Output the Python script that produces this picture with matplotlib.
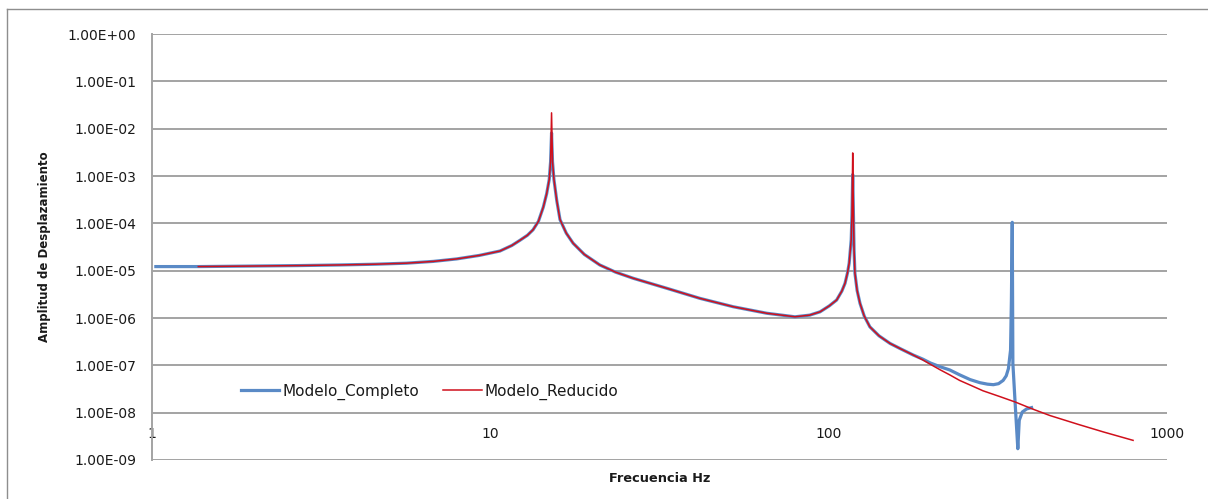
import matplotlib
matplotlib.use("Agg")
import matplotlib.pyplot as plt
from matplotlib.lines import Line2D

# ---- data ----
freq_completo = [1.03, 1.375, 1.95, 2.7, 3.6, 4.6, 5.67, 6.8, 7.97, 9.3, 10.7, 11.6, 12.27, 12.9,
                 13.4, 13.9, 14.37, 14.7, 14.96, 15.1, 15.2, 15.3, 15.45, 15.75, 16.1, 16.8, 17.6,
                 19.0, 21.1, 23.5, 26.5, 33.3, 41.7, 52.3, 65.7, 79.6, 88.0, 94.4, 100.5, 105.7,
                 109.5, 111.9, 113.8, 115.1, 116.7, 117.3, 117.9, 118.5, 119.0, 119.7, 121.5, 123.9,
                 127.5, 132.5, 141.0, 152.0, 164.0, 178.0, 190.0, 200.0, 214.0, 228.0, 244.0, 262.0,
                 280.0, 295.0, 307.0, 318.0, 328.0, 335.0, 340.0, 345.0, 347.0, 349.0, 350.5, 356.0,
                 362.5, 366.0, 373.6, 385.0, 398.0]
amp_completo = [1.22e-5, 1.22e-5, 1.25e-5, 1.28e-5, 1.32e-5, 1.37e-5, 1.44e-5, 1.57e-5, 1.77e-5,
                2.1e-5, 2.6e-5, 3.4e-5, 4.4e-5, 5.6e-5, 7.3e-5, 1.1e-4, 2.2e-4, 4.2e-4, 8.4e-4,
                2.0e-3, 8.1e-3, 2.0e-3, 8.4e-4, 3.0e-4, 1.2e-4, 6.2e-5, 3.8e-5, 2.2e-5, 1.32e-5,
                9.3e-6, 6.9e-6, 4.24e-6, 2.6e-6, 1.73e-6, 1.26e-6, 1.06e-6, 1.15e-6, 1.35e-6,
                1.8e-6, 2.4e-6, 3.7e-6, 5.4e-6, 9.0e-6, 1.44e-5, 4.5e-5, 1.5e-4, 1.07e-3, 1.5e-4,
                2.7e-5, 8.8e-6, 3.8e-6, 2.04e-6, 1.1e-6, 6.5e-7, 4.2e-7, 2.9e-7, 2.2e-7, 1.65e-7,
                1.35e-7, 1.12e-7, 9.3e-8, 8.0e-8, 6.3e-8, 5.0e-8, 4.3e-8, 4.0e-8, 3.9e-8, 4.1e-8,
                4.8e-8, 6.0e-8, 8.5e-8, 2.1e-7, 2.4e-6, 1.05e-4, 1.1e-7, 1.55e-8, 1.73e-9, 6.9e-9,
                1.03e-8, 1.2e-8, 1.28e-8]

freq_reducido = [1.375, 1.95, 2.7, 3.6, 4.6, 5.67, 6.8, 7.97, 9.3, 10.7, 11.6, 12.27, 12.9,
                 13.4, 13.9, 14.37, 14.7, 14.96, 15.1, 15.2, 15.3, 15.45, 15.75, 16.1, 16.8, 17.6,
                 19.0, 21.1, 23.5, 26.5, 33.3, 41.7, 52.3, 65.7, 79.6, 88.0, 94.4, 100.5, 105.7,
                 109.5, 111.9, 113.8, 115.1, 116.7, 117.3, 117.9, 118.5, 119.0, 119.7, 121.5, 123.9,
                 127.5, 132.5, 141.0, 152.0, 164.0, 178.0, 190.0, 200.0, 214.0, 228.0, 244.0, 265.0,
                 286.0, 320.0, 356.0, 400.0, 451.0, 547.0, 650.0, 794.0]
amp_reducido = [1.22e-5, 1.25e-5, 1.28e-5, 1.32e-5, 1.37e-5, 1.44e-5, 1.57e-5, 1.77e-5,
                2.1e-5, 2.6e-5, 3.4e-5, 4.4e-5, 5.6e-5, 7.3e-5, 1.1e-4, 2.2e-4, 4.2e-4, 8.4e-4,
                2.0e-3, 2.16e-2, 2.0e-3, 8.4e-4, 3.0e-4, 1.2e-4, 6.2e-5, 3.8e-5, 2.2e-5, 1.32e-5,
                9.3e-6, 6.9e-6, 4.24e-6, 2.6e-6, 1.73e-6, 1.26e-6, 1.06e-6, 1.15e-6, 1.35e-6,
                1.8e-6, 2.4e-6, 3.7e-6, 5.4e-6, 9.0e-6, 1.44e-5, 4.5e-5, 1.5e-4, 3.07e-3, 1.5e-4,
                2.7e-5, 8.8e-6, 3.8e-6, 2.04e-6, 1.1e-6, 6.5e-7, 4.2e-7, 2.9e-7, 2.2e-7, 1.65e-7,
                1.3e-7, 1.05e-7, 8.0e-8, 6.3e-8, 4.8e-8, 3.7e-8, 2.9e-8, 2.2e-8, 1.68e-8, 1.2e-8,
                8.7e-9, 5.65e-9, 3.9e-9, 2.6e-9]

x_ticks = [1, 10, 100, 1000]
x_tick_labels = ["1", "10", "100", "1000"]
y_ticks = [1e-9, 1e-8, 1e-7, 1e-6, 1e-5, 1e-4, 1e-3, 1e-2, 1e-1, 1e0]
y_tick_labels = ["1.00E-09", "1.00E-08", "1.00E-07", "1.00E-06", "1.00E-05",
                 "1.00E-04", "1.00E-03", "1.00E-02", "1.00E-01", "1.00E+00"]
series_names = ["Modelo_Completo", "Modelo_Reducido"]

# ---- figure ----
W, H = 1208, 499
fig = plt.figure(figsize=(W / 100, H / 100), dpi=100)
fig.patch.set_facecolor("white")

# outer chart frame (left and top edges visible)
frame_col = "#8e8e8e"
fig.add_artist(Line2D([7 / W, 7 / W], [0, 1 - 9 / H], transform=fig.transFigure, color=frame_col, lw=1.0))
fig.add_artist(Line2D([7 / W, 1], [1 - 9 / H, 1 - 9 / H], transform=fig.transFigure, color=frame_col, lw=1.0))

left, right, top, bottom = 151.5, 1167, 34, 460
ax = fig.add_axes([left / W, 1 - bottom / H, (right - left) / W, (bottom - top) / H])
ax.set_xscale("log")
ax.set_yscale("log")
ax.set_xlim(1, 1000)
ax.set_ylim(1e-9, 1e0)

grid_col = "#a3a3a3"
ax.set_yticks(y_ticks)
ax.set_yticklabels(y_tick_labels)
ax.set_xticks(x_ticks)
ax.set_xticklabels(x_tick_labels)
ax.minorticks_off()
ax.yaxis.grid(True, color=grid_col, lw=1.4)
ax.xaxis.grid(False)
ax.set_axisbelow(True)
for s in ["top", "right", "bottom"]:
    ax.spines[s].set_visible(False)
ax.spines["left"].set_color(grid_col)
ax.spines["left"].set_linewidth(1.4)
ax.tick_params(axis="y", length=0, pad=11, labelsize=10, labelcolor="#1a1a1a")
ax.tick_params(axis="x", length=0, pad=-24, labelsize=10, labelcolor="#1a1a1a")

ax.plot(freq_completo, amp_completo, color="#5a8ac6", lw=2.3, label=series_names[0],
        solid_joinstyle="round", zorder=3)
ax.plot(freq_reducido, amp_reducido, color="#d0101c", lw=1.1, label=series_names[1], zorder=4)

fig.text(45 / W, 1 - 247 / H, "Amplitud de Desplazamiento", rotation=90, ha="center", va="center",
         fontsize=8.5, fontweight="bold", color="#1a1a1a")
fig.text(660 / W, 1 - 478 / H, "Frecuencia Hz", ha="center", va="center",
         fontsize=9.3, fontweight="bold", color="#1a1a1a")

leg = ax.legend(loc="center left", bbox_to_anchor=(241 / W, 1 - 391.7 / H), bbox_transform=fig.transFigure,
                ncol=2, frameon=False, fontsize=11, borderpad=0, borderaxespad=0,
                handlelength=2.5, handletextpad=0.2, columnspacing=1.6)
for t in leg.get_texts():
    t.set_color("#1a1a1a")

fig.savefig("out.png", dpi=100)
